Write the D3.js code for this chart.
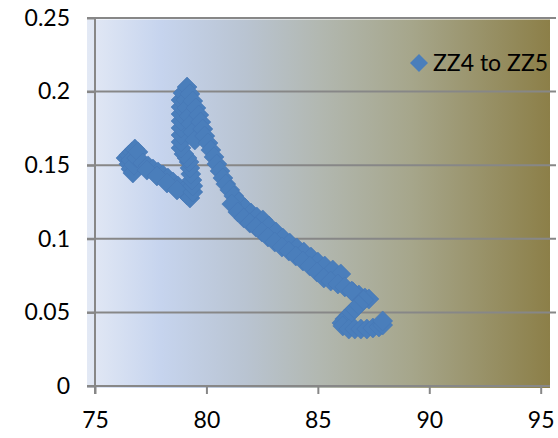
<!DOCTYPE html>
<html>
<head>
<meta charset="utf-8">
<script src="https://cdn.jsdelivr.net/npm/d3@7"></script>
<style>
  html, body { margin: 0; padding: 0; background: #ffffff; }
  svg { display: block; }
  text { font-family: Lato, "Open Sans", sans-serif; fill: #000; }
</style>
</head>
<body>
<svg id="chart" width="558" height="438"></svg>
<script>
// Series "ZZ4 to ZZ5"
const seriesName = "ZZ4 to ZZ5";

const xValues = [
  76.39, 76.52, 76.66, 76.79, 76.52, 76.61, 76.70, 76.61, 76.75, 76.88, 76.93,
  77.15, 77.38, 77.60, 77.83, 78.05, 78.27, 78.50, 78.72, 78.95, 79.13, 79.26,
  77.33, 77.78, 78.23, 78.68,
  79.39, 79.39, 79.35, 79.30, 79.26, 79.22, 79.13, 78.99,
  78.86, 78.86, 78.86, 78.86, 78.86, 78.86, 78.86, 78.86, 78.95, 79.13,
  79.08, 79.13, 79.22, 79.30, 79.39, 79.48,
  79.26, 79.39, 79.53, 79.66, 79.75, 79.84, 79.93, 80.07, 80.20, 80.34, 80.47,
  80.61, 80.74, 80.87, 81.05, 81.23, 81.46, 81.73, 82.00, 82.26, 82.53, 82.80,
  83.12, 83.43, 83.74, 84.06, 84.37, 84.69, 85.00, 85.31, 85.67, 86.03,
  86.57, 86.84, 87.11, 87.29,
  81.14, 81.41, 81.68, 81.95, 82.22, 82.49, 82.76, 83.07, 83.39, 83.70, 84.01,
  84.33, 84.64, 84.96, 85.27, 85.58, 85.90, 86.21, 86.52,
  87.06, 86.84, 86.61, 86.39, 86.21, 86.08,
  86.12, 86.39, 86.66, 86.93, 87.20, 87.47, 87.74, 87.91, 87.91
];

const yValues = [
  0.1549, 0.1569, 0.1590, 0.1610, 0.1508, 0.1474, 0.1447, 0.1535, 0.1501, 0.1549, 0.1590,
  0.1515, 0.1495, 0.1474, 0.1454, 0.1433, 0.1413, 0.1386, 0.1359, 0.1325, 0.1298, 0.1277,
  0.1467, 0.1427, 0.1379, 0.1332,
  0.1318, 0.1359, 0.1399, 0.1440, 0.1481, 0.1522, 0.1549, 0.1576,
  0.1617, 0.1658, 0.1705, 0.1753, 0.1800, 0.1848, 0.1895, 0.1943, 0.1990, 0.2031,
  0.1943, 0.1889, 0.1834, 0.1780, 0.1726, 0.1671,
  0.1984, 0.1936, 0.1889, 0.1841, 0.1793, 0.1746, 0.1698, 0.1651, 0.1603, 0.1556, 0.1508,
  0.1461, 0.1413, 0.1372, 0.1332, 0.1291, 0.1250, 0.1209, 0.1175, 0.1148, 0.1128, 0.1087,
  0.1046, 0.1005, 0.0971, 0.0938, 0.0910, 0.0876, 0.0842, 0.0815, 0.0788, 0.0761,
  0.0639, 0.0618, 0.0598, 0.0591,
  0.1236, 0.1182, 0.1141, 0.1107, 0.1080, 0.1046, 0.1012, 0.0978, 0.0944, 0.0917, 0.0883,
  0.0849, 0.0815, 0.0774, 0.0734, 0.0713, 0.0693, 0.0673, 0.0645,
  0.0584, 0.0550, 0.0516, 0.0482, 0.0455, 0.0428,
  0.0408, 0.0387, 0.0387, 0.0387, 0.0387, 0.0394, 0.0401, 0.0414, 0.0442
];

const xTicks = [75, 80, 85, 90, 95];
const yTicks = [0, 0.05, 0.1, 0.15, 0.2, 0.25];
const yTickLabels = ["0", "0.05", "0.1", "0.15", "0.2", "0.25"];

const points = xValues.map((x, i) => ({ x: x, y: yValues[i] }));

const svg = d3.select("#chart");

const x = d3.scaleLinear().domain([75, 95]).range([95, 540.7]);
const y = d3.scaleLinear().domain([0, 0.25]).range([386, 18]);

// Plot-area background: horizontal gradient from pale blue to olive
const defs = svg.append("defs");
const grad = defs.append("linearGradient")
  .attr("id", "plotBg").attr("x1", "0%").attr("x2", "100%").attr("y1", "0%").attr("y2", "0%");
[
  [0, "#e3e9f5"], [0.16, "#c6d4ee"], [0.34, "#b9c4d2"], [0.5, "#b2b8b1"],
  [0.7, "#a6a68b"], [1, "#8c7f48"]
].forEach(([o, c]) => grad.append("stop").attr("offset", o).attr("stop-color", c));

svg.append("rect")
  .attr("x", 87).attr("y", 19.5)
  .attr("width", 463).attr("height", 368.5)
  .attr("fill", "url(#plotBg)");

// Horizontal gridlines (also serve as the y-axis tick marks on the left)
svg.append("g").selectAll("line")
  .data(yTicks.filter(d => d > 0))
  .join("line")
  .attr("x1", 87).attr("x2", 556)
  .attr("y1", d => y(d)).attr("y2", d => y(d))
  .attr("stroke", "#878787").attr("stroke-width", 2);

// Y axis: labels + left ticks
const yAxis = d3.axisLeft(y)
  .tickValues(yTicks)
  .tickFormat((d, i) => yTickLabels[i])
  .tickSize(8)
  .tickPadding(17);
const gy = svg.append("g").attr("transform", "translate(95,0)").call(yAxis);
gy.select(".domain").remove();
gy.selectAll(".tick line").attr("stroke", "#878787").attr("stroke-width", 2);
gy.selectAll(".tick text").style("font-size", "23px").attr("fill", "#000");

// X axis
const xAxis = d3.axisBottom(x)
  .tickValues(xTicks)
  .tickSize(8)
  .tickPadding(18);
const gx = svg.append("g").attr("transform", "translate(0,386)").call(xAxis);
gx.select(".domain").remove();
gx.selectAll(".tick line").attr("stroke", "#878787").attr("stroke-width", 2);
gx.selectAll(".tick text").style("font-size", "23px").attr("fill", "#000");

// Axis lines
svg.append("line")
  .attr("x1", 87).attr("x2", 550).attr("y1", y(0)).attr("y2", y(0))
  .attr("stroke", "#878787").attr("stroke-width", 2);
svg.append("line")
  .attr("x1", x(75)).attr("x2", x(75)).attr("y1", y(0.25) - 1).attr("y2", y(0) + 8)
  .attr("stroke", "#878787").attr("stroke-width", 2);

// Diamond markers: 20px corner to corner on the plot, 18px in the legend
const diamond = "M0,-10L10,0L0,10L-10,0Z";
const legendDiamond = "M0,-9L9,0L0,9L-9,0Z";
const markerColor = "#4a7ebb";

svg.append("g").selectAll("path")
  .data(points)
  .join("path")
  .attr("d", diamond)
  .attr("transform", d => `translate(${x(d.x)},${y(d.y)})`)
  .attr("fill", markerColor)
  .attr("stroke", "#4677b6")
  .attr("stroke-width", 0.6);

// Legend
const legend = svg.append("g").attr("transform", "translate(419,63)");
legend.append("path").attr("d", legendDiamond).attr("fill", markerColor);
legend.append("text")
  .attr("x", 14).attr("y", 8)
  .style("font-size", "23px")
  .text(seriesName);
</script>
</body>
</html>
